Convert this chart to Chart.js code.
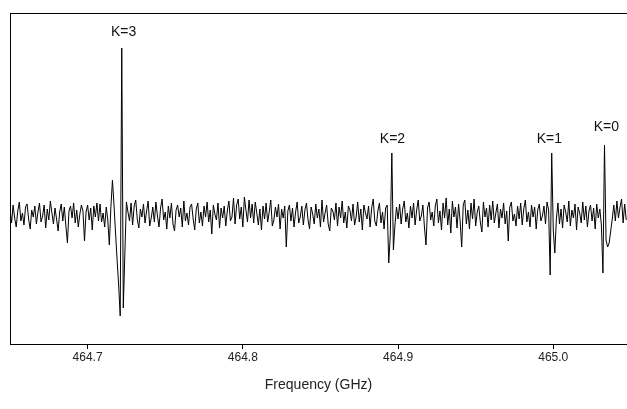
<!DOCTYPE html>
<html>
<head>
  <meta charset="UTF-8">
  <title>Frequency spectrum</title>
  <style>
    html, body { margin: 0; padding: 0; background: #fff; }
    #chart { display: block; }
  </style>
</head>
<body>
  <canvas id="chart" width="627" height="409"></canvas>

  <script src="https://cdn.jsdelivr.net/npm/chart.js"></script>
  <script>
    // sampling grid of the spectrum (GHz)
    const freqStart = 464.65;
    const freqStep  = 0.001;

    // signal (arbitrary units, baseline = 0)
    const intensity = [
      6, -8, 10, -3, -12, 4, 13, -6, 2, -10, 8, 11, -4, -14, 5, -2, 9, -9, 3, 12,
      -7, -1, 10, -13, 6, -5, 14, 2, -9, 7, -4, -16, 3, 11, -6, 8, -11, -28, 4, 9,
      -3, 12, -8, 5, -12, 1, 10, 4, -26, 3, 10, -5, 7, -15, 9, -2, 12, -6, 11, -7,
      2, -12, 8,
      // K=3
      -5, -30, 8, 35, 10, -18, -45, -70, -101, 167, -93, -38, 13, 3,
      -6, 12, -10, 9, 15, -4, -13, 6, -2, 11, -8, 4, 14, -11, -3, 8, -7, 13, -1, -12,
      7, 16, -5, 3, -14, 9, -3, 12, -9, -16, 5, 10, -2, 7, -12, 14, -6, 2, -10, 8,
      11, -4, -15, 6, 12, -8, 3, -11, 9, -2, 13, -7, 5, -19, 10, 1, -5, 12, -13, 7,
      -3, 9, -11, 4, 14, -6, -2, 17, -9, 10, 16, -4, 8, -12, 18, 5, -7, 15, -3, 11,
      -8, 13, 2, -10, 6, -15, 9, -4, 12, -7, 3, 15, -11, -5, 8, -2, 11, -14, 6, -3,
      9, -32, 4, 10, -6, 7, -12, 3, 13, -8, -2, 9, -10, 5, 12, -5, -14, 8, 1, -9,
      11, -3, 6, -12, 15, -7, 2, 10, -9, -16, 7, 4, -5, 12, -11, 8, -3, 14, -8, 3,
      -13, 9, 5, -6, 11, -10, -2, 13, -7, 6, -15, 10, 2, -4, 9, -12, 7, 16, -6, -11,
      4, 12, -8, 3, -14, 7,
      // K=2
      10, -48, -20, 62, -35, -10, 8,
      -4, 11, -9, 6, 14, -7, 2, -13, 9, -3, 12, -10, 5, 15, -6, -1, 10, -12, -30, 7,
      13, -5, 3, -11, 9, 16, -8, 4, -15, 12, -3, 17, -10, 6, -18, 14, -2, 8, -13, 11,
      -6, -32, 10, 15, -9, 5, -14, 12, -4, 16, -11, 3, 9, -7, -17, 13, -2, 7, -12, 10,
      -5, 14, -8, 2, 11, -13, 6, -3, 12, -9, 4, -26, 8, 13, -6, 1, -11, 9, -4, 12,
      -10, 6, 15, -7, 3, -12, 10, -2, 8, -14, 5, 11, -6, -1, 9, -9, 13,
      // K=1
      5, -60, 62, -15, -38,
      -4, 12, -9, 6, -13, 10, 3, -7, 14, -11, 5, -3, 11, -15, 8, 2, -8, 13, -5, 9,
      -12, 4, 10, -6, 7, -14, 11, -3, 6,
      // K=0
      -10, -58, 70, -25, -32, -28, -16, -4,
      10, -6, 14, -3, 8, 16, -8, 11, -5
    ];

    const tickValues = [464.7, 464.8, 464.9, 465.0];
    const tickLabels = ['464.7', '464.8', '464.9', '465.0'];

    const peakNames  = ['K=3', 'K=2', 'K=1', 'K=0'];
    const peakFreqs  = [464.7232, 464.8964, 464.9975, 465.0342];
    const peakLabelY = [183, 76, 76, 88];

    const points = intensity.map((v, i) => ({ x: freqStart + i * freqStep, y: v }));

    const font = '"Liberation Sans", Arial, sans-serif';

    const peakLabels = {
      id: 'peakLabels',
      afterDatasetsDraw(chart) {
        const { ctx, scales } = chart;
        ctx.save();
        ctx.font = '14px ' + font;
        ctx.fillStyle = '#111';
        ctx.textAlign = 'center';
        ctx.textBaseline = 'middle';
        peakNames.forEach((name, i) => {
          ctx.fillText(name,
            scales.x.getPixelForValue(peakFreqs[i]),
            scales.y.getPixelForValue(peakLabelY[i]));
        });
        ctx.restore();
      }
    };

    new Chart(document.getElementById('chart'), {
      type: 'line',
      data: {
        datasets: [{
          data: points,
          borderColor: '#000',
          borderWidth: 1,
          pointRadius: 0,
          tension: 0,
          fill: false
        }]
      },
      options: {
        responsive: false,
        animation: false,
        devicePixelRatio: 1,
        layout: { padding: { left: 10, top: 13, right: 0, bottom: 0 } },
        plugins: { legend: { display: false }, tooltip: { enabled: false } },
        scales: {
          x: {
            type: 'linear',
            position: 'bottom',
            min: 464.65,
            max: 465.0475,
            afterBuildTicks: s => { s.ticks = tickValues.map(v => ({ value: v })); },
            afterFit: s => { s.height = 65; },
            ticks: {
              callback: (v, i) => tickLabels[i],
              font: { family: font, size: 12 },
              color: '#222',
              padding: 1,
              maxRotation: 0,
              autoSkip: false
            },
            grid: { display: true, drawOnChartArea: false, drawTicks: true, tickLength: 5, color: '#000' },
            border: { display: true, color: '#000', width: 1 },
            title: {
              display: true,
              text: 'Frequency (GHz)',
              font: { family: font, size: 14 },
              color: '#222',
              padding: { top: 0, bottom: 15 }
            }
          },
          xTop: {
            type: 'linear',
            position: 'top',
            min: 464.65,
            max: 465.0475,
            afterFit: s => { s.height = 0; },
            ticks: { display: false },
            grid: { display: false },
            border: { display: true, color: '#000', width: 1 }
          },
          y: {
            min: -129,
            max: 202,
            afterFit: s => { s.width = 0; },
            ticks: { display: false },
            grid: { display: false },
            border: { display: true, color: '#000', width: 1 }
          }
        }
      },
      plugins: [peakLabels]
    });
  </script>
</body>
</html>
